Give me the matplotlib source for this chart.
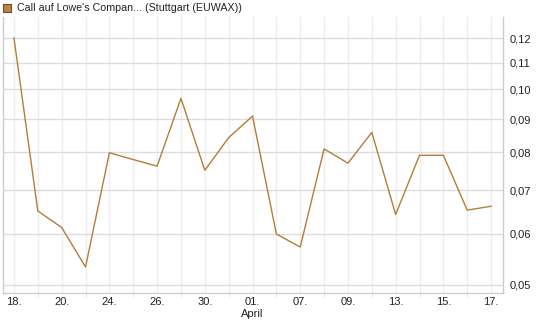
import matplotlib.pyplot as plt
from matplotlib.patches import Rectangle

plt.rcParams['font.family'] = ['Liberation Sans', 'DejaVu Sans']

# handelstage (index) und kurse
dates = ['18.03.', '19.03.', '20.03.', '23.03.', '24.03.', '25.03.', '26.03.',
         '27.03.', '30.03.', '31.03.', '01.04.', '02.04.', '07.04.', '08.04.',
         '09.04.', '10.04.', '13.04.', '14.04.', '15.04.', '16.04.', '17.04.']
prices = [0.120, 0.065, 0.0613, 0.0533, 0.0799, 0.078, 0.0762,
          0.0969, 0.0751, 0.0843, 0.0910, 0.0599, 0.0572, 0.0810,
          0.0770, 0.0859, 0.0642, 0.0792, 0.0792, 0.0652, 0.0661]

# achsenbeschriftung
xtick_pos = [0, 2, 4, 6, 8, 10, 12, 14, 16, 18, 20]
xtick_labels = ['18.', '20.', '24.', '26.', '30.', '01.\nApril', '07.', '09.', '13.', '15.', '17.']
ytick_vals = [0.05, 0.06, 0.07, 0.08, 0.09, 0.10, 0.11, 0.12]
ytick_labels = ['0,05', '0,06', '0,07', '0,08', '0,09', '0,10', '0,11', '0,12']

line_color = '#b07e38'
grid_major = '#dcdcdc'
grid_minor = '#eeeeee'

fig = plt.figure(figsize=(5.45, 3.27), dpi=100)
ax = fig.add_axes([3 / 545, (327 - 293) / 327, 500 / 545, 276 / 327])

x = list(range(len(prices)))
ax.plot(x, prices, color=line_color, lw=1.0, zorder=3)

ax.set_yscale('log')
ax.set_ylim(0.0486, 0.1293)
ax.set_xlim(-0.46, 20.5)

ax.set_yticks(ytick_vals)
ax.set_yticklabels(ytick_labels)
ax.yaxis.set_minor_locator(plt.NullLocator())
ax.yaxis.tick_right()
ax.tick_params(axis='y', length=0, pad=5, labelsize=8, colors='#222222')

ax.set_xticks(xtick_pos)
ax.set_xticklabels(xtick_labels)
ax.set_xticks(range(len(prices)), minor=True)
ax.tick_params(axis='x', which='major', length=0, pad=3, labelsize=8, colors='#222222')
ax.tick_params(axis='x', which='minor', length=3, color=grid_major)

#gitter
ax.grid(True, axis='y', which='major', color=grid_major, lw=1.0)
ax.grid(True, axis='x', which='both', color=grid_minor, lw=1.0)
ax.set_axisbelow(True)

for s in ['left', 'bottom', 'right']:
    ax.spines[s].set_color('#cccccc')
    ax.spines[s].set_linewidth(1.0)
ax.spines['top'].set_visible(False)

#legende oben
fig.patches.append(Rectangle((3 / 545, (327 - 12) / 327), 8 / 545, 8 / 327,
                             transform=fig.transFigure, facecolor='#b8864a',
                             edgecolor='#6e4a20', lw=0.8))
fig.text(17 / 545, (327 - 8) / 327, "Call auf Lowe's Compan... (Stuttgart (EUWAX))",
         fontsize=7.7, va='center', ha='left', color='#222222')

plt.savefig('out.png', dpi=100)
